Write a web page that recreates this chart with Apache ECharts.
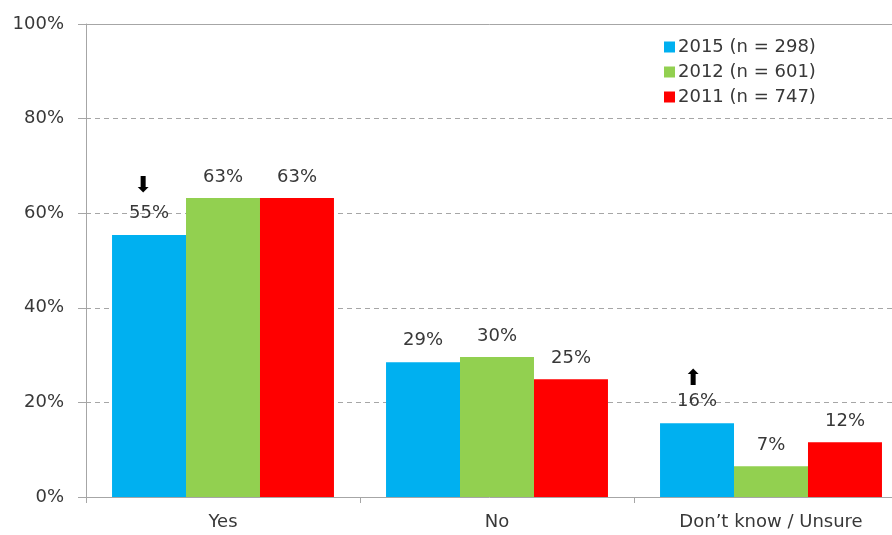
<!DOCTYPE html>
<html>
<head>
<meta charset="utf-8">
<script src="https://cdn.jsdelivr.net/npm/echarts@6/dist/echarts.min.js"></script>
<style>
  html, body { margin: 0; padding: 0; background: #fff; }
  #chart { width: 892px; height: 535px; }
</style>
</head>
<body>
<div id="chart"></div>
<script>
// categories and series
var categories = ['Yes', 'No', 'Don\u2019t know / Unsure'];
var seriesNames = ['2015 (n = 298)', '2012 (n = 601)', '2011 (n = 747)'];
var values2015 = [55.4, 28.5, 15.6];
var values2012 = [63.2, 29.6, 6.5];
var values2011 = [63.2, 24.9, 11.6];
// arrows over the 2015 bars (significant change)
var arrows2015 = ['\u2B07', '', '\u2B06'];
var yTicks = [0, 20, 40, 60, 80, 100];

var colors = ['#00B0F0', '#92D050', '#FF0000'];
var font = 'DejaVu Sans, Verdana, sans-serif';

var chart = echarts.init(document.getElementById('chart'));

function pct(p) {
	return Math.round(p.value) + '%';
}

var baseLabel = {
	show: true,
	position: 'top',
	distance: 12,
	fontFamily: font,
	fontSize: 18,
	color: '#383838',
	formatter: pct
};

/*2015 series carries the arrows above its labels*/
var label2015 = Object.assign({}, baseLabel, {
	formatter: function (p) {
		var a = arrows2015[p.dataIndex];
		var v = '{v|' + Math.round(p.value) + '%}';
		if (!a) return v;
		return (a === '\u2B07' ? '{dn|' : '{up|') + a + '}\n' + v;
	},
	rich: {
		dn: { fontFamily: font, fontSize: 22, color: '#000', lineHeight: 34, padding: [0, 12, 0, 0] },
		up: { fontFamily: font, fontSize: 22, color: '#000', lineHeight: 24, padding: [0, 8, 0, 0] },
		v: { fontFamily: font, fontSize: 18, color: '#383838', lineHeight: 20 }
	}
});

var data = [values2015, values2012, values2011];
var seriesData = [];
seriesNames.forEach(function (name, i) {
	seriesData.push({
		name: name,
		type: 'bar',
		data: data[i],
		barGap: '0%',
		barCategoryGap: '19%',
		itemStyle: { color: colors[i] },
		label: i === 0 ? label2015 : baseLabel
	});
});

chart.setOption({
	animation: false,
	textStyle: { fontFamily: font },
	legend: {
		data: seriesNames,
		orient: 'vertical',
		left: 659,
		top: 33,
		itemWidth: 11,
		itemHeight: 11,
		itemGap: 7,
		icon: 'rect',
		textStyle: { fontFamily: font, fontSize: 18, color: '#383838', padding: [0, 0, 0, -2] }
	},
	grid: {
		left: 86,
		top: 24,
		width: 822,
		height: 473,
		outerBoundsMode: 'none'
	},
	xAxis: [{
		type: 'category',
		data: categories,
		axisLine: { lineStyle: { color: '#a6a6a6' } },
		axisTick: { show: true, length: 6, lineStyle: { color: '#a6a6a6' } },
		axisLabel: { fontFamily: font, fontSize: 18, color: '#383838', margin: 16 }
	}, {
		/*solid frame line along the top*/
		type: 'category',
		position: 'top',
		data: categories,
		axisLine: { show: true, lineStyle: { color: '#a6a6a6' } },
		axisTick: { show: false },
		axisLabel: { show: false }
	}],
	yAxis: {
		type: 'value',
		min: 0,
		max: 100,
		interval: 20,
		axisLine: { show: true, lineStyle: { color: '#a6a6a6' } },
		axisTick: { show: true, inside: false, length: 8, lineStyle: { color: '#a6a6a6' } },
		axisLabel: {
			fontFamily: font,
			fontSize: 18,
			color: '#383838',
			margin: 22,
			formatter: function (v) { return yTicks.indexOf(v) >= 0 ? v + '%' : ''; }
		},
		splitLine: { show: true, lineStyle: { color: '#a6a6a6', type: [5, 4] } }
	},
	series: seriesData
});
</script>
</body>
</html>
